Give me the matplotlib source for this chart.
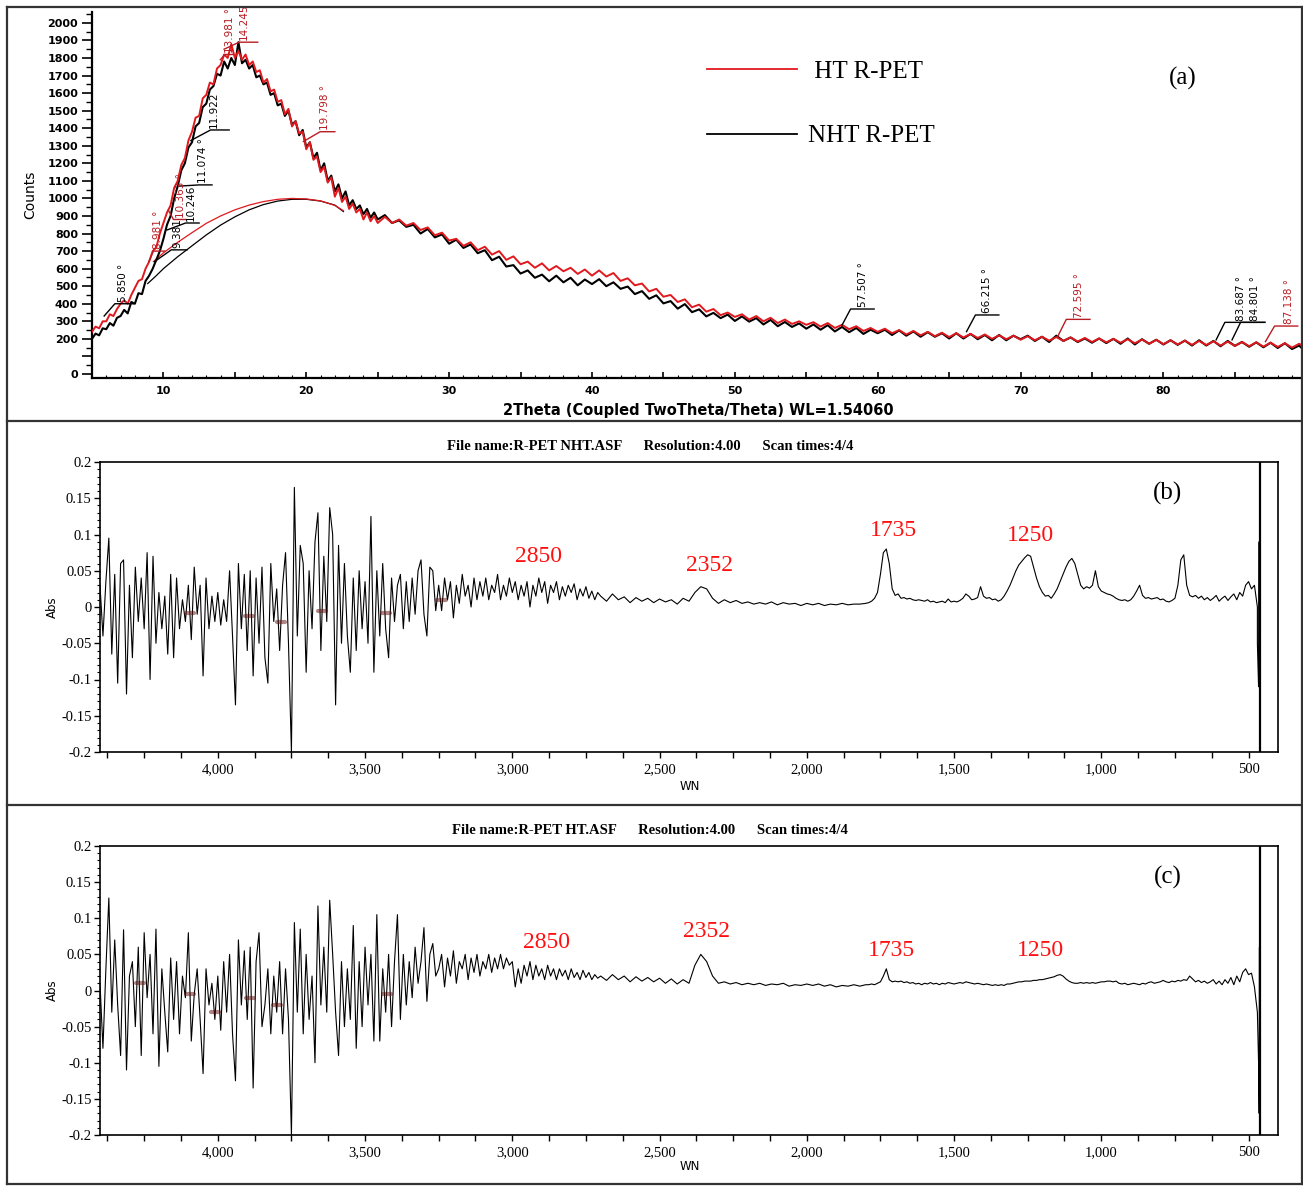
import numpy as np
import matplotlib
matplotlib.use("Agg")
import matplotlib.pyplot as plt
from matplotlib.lines import Line2D
from matplotlib.ticker import MultipleLocator, FixedLocator

# ---------------- XRD data (panel a) ----------------
# 2theta 5.0 .. 25.0 step 0.25
nht_head = [200, 230, 220, 260, 255, 290, 275, 320, 330, 365, 345, 410, 400, 460, 455, 530,
            560, 600, 650, 700, 770, 850, 900, 1000, 1070, 1160, 1200, 1290, 1320, 1410, 1430,
            1520, 1540, 1620, 1640, 1710, 1700, 1780, 1740, 1800, 1760, 1890, 1770, 1790, 1740,
            1760, 1690, 1700, 1650, 1660, 1590, 1600, 1530, 1540, 1470, 1500, 1420, 1440, 1360,
            1390, 1290, 1320, 1230, 1260, 1160, 1200, 1100, 1130, 1040, 1080, 1000, 1040, 960,
            990, 940, 960, 910, 940, 890, 920, 880]
ht_head = [240, 270, 260, 300, 300, 340, 330, 370, 400, 420, 400, 450, 490, 530, 540, 600,
           640, 700, 720, 800, 860, 920, 960, 1060, 1100, 1190, 1230, 1330, 1380, 1460, 1470,
           1570, 1590, 1660, 1650, 1740, 1760, 1820, 1800, 1880, 1800, 1840, 1790, 1820, 1760,
           1780, 1720, 1730, 1660, 1680, 1610, 1620, 1550, 1560, 1480, 1510, 1410, 1440, 1370,
           1380, 1280, 1320, 1220, 1240, 1150, 1180, 1090, 1120, 1010, 1060, 980, 1010, 940,
           970, 920, 940, 880, 920, 870, 900, 860]
# 2theta 25.5 .. 90.0 step 0.5
nht_tail = [905, 860, 875, 838, 850, 800, 826, 778, 795, 742,
            765, 718, 738, 688, 705, 648, 668, 612, 620, 572,
            590, 548, 566, 528, 560, 522, 548, 505, 538, 512,
            540, 500, 522, 485, 498, 455, 472, 428, 448, 402,
            415, 372, 398, 352, 368, 328, 348, 318, 338, 302,
            328, 298, 318, 282, 308, 272, 296, 268, 288, 258,
            282, 252, 278, 242, 268, 238, 262, 228, 252, 232,
            252, 222, 248, 218, 242, 212, 238, 212, 232, 202,
            232, 202, 228, 198, 222, 192, 222, 192, 218, 198,
            218, 188, 212, 182, 218, 188, 208, 182, 202, 178,
            202, 176, 200, 172, 202, 168, 198, 172, 195, 168,
            192, 166, 190, 162, 192, 162, 188, 158, 188, 160,
            182, 155, 180, 152, 178, 148, 175, 142, 162, 122]
ht_tail = [895, 860, 880, 845, 860, 820, 835, 790, 805, 760,
           770, 730, 750, 705, 725, 680, 700, 650, 670, 625,
           640, 605, 630, 590, 615, 585, 605, 570, 595, 560,
           590, 555, 575, 530, 545, 505, 515, 470, 485, 440,
           450, 410, 425, 380, 395, 355, 370, 335, 350, 325,
           340, 310, 330, 300, 320, 290, 310, 285, 300, 280,
           295, 270, 290, 262, 280, 255, 272, 245, 262, 240,
           258, 232, 250, 225, 245, 220, 240, 215, 235, 210,
           232, 208, 228, 205, 225, 200, 220, 198, 218, 195,
           215, 192, 212, 190, 210, 188, 208, 185, 205, 182,
           202, 180, 200, 178, 198, 175, 196, 172, 194, 170,
           192, 168, 190, 166, 188, 165, 186, 162, 184, 160,
           182, 158, 180, 156, 178, 154, 175, 150, 172, 150]

# amorphous halo fits
arc_nht_theta = [8.9, 9.5, 10, 11, 12, 13, 14, 15, 16, 17, 18, 19, 20, 21, 22, 22.6]
arc_nht_counts = [515, 560, 600, 668, 730, 792, 848, 895, 935, 965, 985, 995, 995, 985, 962, 925]
arc_ht_theta = [9.3, 10, 11, 12, 13, 14, 15, 16, 17, 18, 19, 20, 21, 22, 22.6]
arc_ht_counts = [640, 690, 750, 805, 858, 900, 935, 962, 982, 995, 1000, 997, 986, 960, 930]

# peak markers
nht_labels = ["5.850 °", "9.381", "10.246", "11.074 °", "11.922", "57.507 °", "66.215 °",
              "83.687 °", "84.801 °"]
nht_x0 = [5.85, 9.381, 10.246, 11.074, 11.922, 57.507, 66.215, 83.687, 84.801]
nht_c0 = [330, 640, 820, 1070, 1330, 279, 241, 194, 194]
nht_x1 = [6.6, 10.55, 11.55, 12.5, 13.3, 58.1, 66.84, 84.3, 85.4]
nht_c1 = [400, 707, 860, 1077, 1390, 370, 336, 294, 294]
nht_x2 = [7.9, 11.65, 12.5, 13.4, 14.6, 59.75, 68.48, 87.1, 87.1]
nht_xt = [7.2, 10.95, 11.9, 12.8, 13.55, 59.0, 67.65, 85.44, 86.4]

ht_labels = ["8.981 °", "10.363 °", "13.981 °", "14.245", "19.798 °", "72.595 °", "87.138 °"]
ht_x0 = [8.981, 10.363, 13.981, 14.245, 19.798, 72.595, 87.138]
ht_c0 = [640, 930, 1790, 1850, 1324, 213, 184]
ht_x1 = [9.3, 10.7, 14.3, 15.3, 20.97, 73.2, 87.78]
ht_c1 = [700, 880, 1820, 1890, 1380, 311, 273]
ht_x2 = [10.1, 11.6, 14.9, 16.6, 22.0, 74.86, 89.4]
ht_xt = [9.65, 11.25, 14.67, 15.6, 21.3, 74.1, 88.8]

# ---------------- FTIR data (panels b, c) ----------------
# segment A: 4400 -> 3260 (step 10)
nht_A = [0.03, -0.04, 0.035, 0.095, -0.065, 0.045, -0.105, 0.06, 0.065, -0.12,
         0.03, -0.07, 0.055, -0.02, 0.04, -0.03, 0.075, -0.1, 0.07, -0.05,
         0.02, -0.03, 0.015, -0.065, 0.045, -0.07, 0.04, -0.03, 0.01, -0.02,
         0.03, -0.045, 0.055, -0.01, 0.03, -0.095, 0.04, -0.03, 0.015, -0.02,
         0.02, -0.025, 0.01, -0.02, 0.05, -0.04, -0.135, 0.06, -0.03, 0.045,
         -0.06, 0.05, -0.095, 0.04, -0.05, 0.055, -0.07, -0.105, 0.06, -0.02,
         0.025, -0.06, 0.03, 0.075, -0.05, -0.2, 0.165, -0.04, 0.085, 0.06,
         -0.09, 0.05, -0.03, 0.09, 0.13, -0.06, 0.07, -0.02, 0.137, 0.1,
         -0.135, 0.085, -0.05, 0.06, -0.04, -0.09, 0.04, -0.06, 0.05, -0.03,
         0.035, -0.05, 0.125, -0.09, 0.05, -0.04, 0.06, -0.03, -0.07, 0.04,
         -0.02, 0.03, 0.045, -0.03, 0.035, -0.02, 0.04, -0.01, 0.05, 0.065,
         -0.01, -0.04, 0.055, 0.05, -0.005]
# segment B: 3250 -> 2710 (step 10)
nht_B = [0.03, -0.005, 0.04, 0.01, 0.035, -0.015, 0.03, 0.005, 0.045, 0.015,
         0.03, 0.0, 0.04, 0.01, 0.035, 0.015, 0.04, 0.01, 0.03, 0.02,
         0.045, 0.01, 0.03, 0.015, 0.04, 0.02, 0.035, 0.01, 0.03, 0.015,
         0.035, 0.0, 0.03, 0.015, 0.04, 0.02, 0.035, 0.005, 0.03, 0.02,
         0.035, 0.01, 0.028, 0.015, 0.03, 0.02, 0.032, 0.01, 0.025, 0.015,
         0.028, 0.012, 0.022, 0.01, 0.02]
# segment C: 2700 -> 1800 (step 20)
nht_C = [0.015, 0.008, 0.018, 0.01, 0.014, 0.006, 0.013, 0.008, 0.012, 0.006,
         0.011, 0.007, 0.01, 0.004, 0.012, 0.008, 0.02, 0.028, 0.025, 0.012,
         0.005, 0.01, 0.006, 0.009, 0.005, 0.007, 0.004, 0.006, 0.004, 0.007,
         0.003, 0.006, 0.004, 0.005, 0.002, 0.005, 0.003, 0.005, 0.002, 0.004,
         0.003, 0.005, 0.003, 0.004, 0.004, 0.005]
# segment D: 1790 -> 470 (step 10)
nht_D = [0.006, 0.008, 0.012, 0.02, 0.045, 0.075, 0.08, 0.06, 0.025, 0.016,
         0.018, 0.012, 0.013, 0.011, 0.012, 0.01, 0.009, 0.01, 0.009, 0.008,
         0.01, 0.007, 0.008, 0.006, 0.007, 0.008, 0.006, 0.011, 0.007, 0.008,
         0.007, 0.009, 0.012, 0.018, 0.015, 0.01, 0.011, 0.013, 0.028, 0.015,
         0.012, 0.013, 0.01, 0.011, 0.008, 0.01, 0.015, 0.022, 0.03, 0.04,
         0.05, 0.058, 0.063, 0.068, 0.072, 0.07, 0.055, 0.04, 0.028, 0.02,
         0.015, 0.016, 0.012, 0.018, 0.025, 0.035, 0.045, 0.055, 0.063, 0.067,
         0.06, 0.045, 0.03, 0.025, 0.028, 0.026, 0.03, 0.05, 0.028, 0.022,
         0.02, 0.018, 0.017, 0.015, 0.012, 0.01, 0.009, 0.01, 0.008, 0.01,
         0.015, 0.022, 0.03, 0.016, 0.012, 0.013, 0.011, 0.012, 0.013, 0.01,
         0.011, 0.008, 0.007, 0.009, 0.012, 0.03, 0.065, 0.072, 0.03, 0.016,
         0.014, 0.016, 0.012, 0.015, 0.01, 0.013, 0.009, 0.012, 0.016, 0.008,
         0.012, 0.015, 0.009, 0.014, 0.018, 0.01, 0.02, 0.015, 0.03, 0.035,
         0.025, 0.03, 0.0]
nht_end_wn = [470, 466, 464, 462]
nht_end = [-0.05, -0.11, 0.09, -0.2]

ht_A = [0.01, -0.08, 0.03, 0.128, -0.03, 0.07, -0.02, -0.09, 0.084, -0.11,
        0.02, 0.04, -0.05, 0.06, -0.09, 0.08, -0.01, 0.05, -0.06, 0.085,
        -0.105, 0.03, -0.03, -0.085, 0.045, -0.04, 0.04, -0.06, 0.02, -0.01,
        0.08, -0.07, -0.005, 0.03, -0.04, -0.115, 0.03, -0.02, 0.01, -0.04,
        0.02, -0.055, 0.04, -0.03, 0.05, -0.06, -0.125, 0.07, -0.02, 0.055,
        -0.04, 0.06, -0.135, 0.04, 0.08, -0.05, -0.02, 0.03, -0.06, 0.02,
        -0.03, 0.04, -0.06, 0.03, -0.04, -0.2, 0.094, -0.03, 0.085, -0.06,
        0.05, -0.04, 0.02, -0.1, 0.117, -0.02, 0.06, -0.03, 0.125, 0.05,
        -0.03, -0.09, 0.04, -0.05, 0.03, -0.04, 0.09, -0.08, 0.04, -0.05,
        0.06, -0.02, 0.05, -0.07, 0.105, -0.07, 0.03, -0.03, 0.05, -0.05,
        0.04, 0.105, -0.04, 0.05, -0.02, 0.04, -0.01, 0.06, 0.01, 0.04,
        0.087, -0.015, 0.05, 0.065, 0.02]
ht_B = [0.03, 0.05, 0.005, 0.045, 0.02, 0.055, 0.01, 0.04, 0.03, 0.05,
        0.015, 0.045, 0.025, 0.05, 0.02, 0.04, 0.03, 0.05, 0.025, 0.045,
        0.03, 0.05, 0.03, 0.045, 0.035, 0.04, 0.005, 0.03, 0.01, 0.035,
        0.02, 0.04, 0.015, 0.035, 0.02, 0.03, 0.015, 0.035, 0.02, 0.03,
        0.015, 0.03, 0.02, 0.028, 0.015, 0.03, 0.018, 0.025, 0.015, 0.028,
        0.018, 0.025, 0.015, 0.022, 0.017]
ht_C = [0.02, 0.014, 0.022, 0.015, 0.02, 0.012, 0.019, 0.013, 0.018, 0.012,
        0.017, 0.01, 0.016, 0.009, 0.015, 0.01, 0.035, 0.05, 0.04, 0.02,
        0.01, 0.012, 0.009, 0.011, 0.008, 0.01, 0.008, 0.01, 0.007, 0.009,
        0.008, 0.01, 0.006, 0.008, 0.007, 0.009, 0.007, 0.009, 0.006, 0.008,
        0.005, 0.007, 0.006, 0.008, 0.006, 0.008]
ht_D = [0.008, 0.009, 0.008, 0.01, 0.012, 0.02, 0.03, 0.015, 0.012, 0.013,
        0.012, 0.013, 0.011, 0.012, 0.01, 0.011, 0.009, 0.01, 0.008, 0.01,
        0.009, 0.011, 0.009, 0.01, 0.008, 0.01, 0.009, 0.011, 0.01, 0.009,
        0.01, 0.011, 0.01, 0.012, 0.011, 0.01, 0.009, 0.01, 0.009, 0.008,
        0.009, 0.008, 0.007, 0.008, 0.007, 0.008, 0.007, 0.009, 0.009, 0.01,
        0.011, 0.012, 0.012, 0.013, 0.013, 0.013, 0.014, 0.014, 0.015, 0.015,
        0.016, 0.017, 0.018, 0.019, 0.021, 0.022, 0.02, 0.016, 0.013, 0.011,
        0.01, 0.01, 0.011, 0.01, 0.011, 0.01, 0.011, 0.01, 0.011, 0.012,
        0.012, 0.013, 0.013, 0.012, 0.013, 0.01, 0.009, 0.01, 0.008, 0.009,
        0.01, 0.009, 0.008, 0.01, 0.009, 0.011, 0.012, 0.01, 0.011, 0.012,
        0.014, 0.012, 0.011, 0.013, 0.012, 0.014, 0.013, 0.015, 0.014, 0.02,
        0.016, 0.012, 0.014, 0.011, 0.013, 0.01, 0.012, 0.015, 0.009, 0.013,
        0.008, 0.015, 0.01, 0.018, 0.008, 0.02, 0.012, 0.025, 0.03, 0.022,
        0.024, 0.005, -0.03]
ht_end_wn = [466, 464, 463, 462]
ht_end = [-0.1, -0.17, 0.06, -0.2]

cutoff_wn = 461

smudge_b_wn = [4095, 3895, 3785, 3645, 3430, 3240]
smudge_b_abs = [-0.008, -0.012, -0.02, -0.005, -0.008, 0.01]
smudge_c_wn = [4265, 4095, 4010, 3890, 3800, 3425]
smudge_c_abs = [0.01, -0.005, -0.03, -0.01, -0.02, -0.005]

peak_names = ["2850", "2352", "1735", "1250"]
b_lab_wn = [2910, 2330, 1705, 1240]
b_lab_abs = [0.069, 0.057, 0.105, 0.098]
c_lab_wn = [2883, 2340, 1712, 1206]
c_lab_abs = [0.066, 0.082, 0.055, 0.055]

# ---------------- figure ----------------
W, H = 1303, 1186
fig = plt.figure(figsize=(W / 100, H / 100), dpi=100)


def axes_px(l, t, r, b):
    return fig.add_axes([l / W, 1 - b / H, (r - l) / W, (b - t) / H])


def fx(px):
    return px / W


def fy(py):
    return 1 - py / H


RED = "#e0191e"
LRED = "#b81c22"
NARROW = ["Liberation Sans Narrow", "DejaVu Sans"]
SERIF = ["Liberation Serif", "DejaVu Serif"]

# panel a
ax = axes_px(92, 12, 1302, 378)
th_head = np.linspace(5.0, 25.0, len(nht_head))
th_tail = np.linspace(25.5, 90.0, len(nht_tail))
theta = np.concatenate([th_head, th_tail])
nht = np.concatenate([nht_head, nht_tail])
ht = np.concatenate([np.array(ht_head, float), np.array(ht_tail, float)])
ax.plot(theta, nht, color="black", lw=1.5, zorder=3)
ax.plot(theta, ht, color=RED, lw=1.4, zorder=4)
ax.plot(arc_nht_theta, arc_nht_counts, color="black", lw=0.9, zorder=2)
ax.plot(arc_ht_theta, arc_ht_counts, color=RED, lw=0.9, zorder=2)

for lab, x0, c0, x1, c1, x2, xt in zip(nht_labels, nht_x0, nht_c0, nht_x1, nht_c1, nht_x2, nht_xt):
    ax.plot([x0, x1, x2], [c0, c1, c1], color="black", lw=1.0, zorder=5)
    ax.text(xt, c1 + 10, lab, rotation=90, ha="center", va="bottom", fontsize=7.5,
            family=NARROW, color="black", zorder=6)
for lab, x0, c0, x1, c1, x2, xt in zip(ht_labels, ht_x0, ht_c0, ht_x1, ht_c1, ht_x2, ht_xt):
    ax.plot([x0, x1, x2], [c0, c1, c1], color=LRED, lw=1.0, zorder=5, clip_on=False)
    ax.text(xt, c1 + 10, lab, rotation=90, ha="center", va="bottom", fontsize=7.5,
            family=NARROW, color=LRED, zorder=6, clip_on=False)

ax.set_xlim(5.0, 89.7)
ax.set_ylim(-23, 2062)
for s in ["top", "right"]:
    ax.spines[s].set_visible(False)
for s in ["left", "bottom"]:
    ax.spines[s].set_linewidth(1.6)
yt = list(range(0, 2001, 100))
ax.set_yticks(yt)
ax.set_yticklabels(["" if v == 100 else str(v) for v in yt])
ax.yaxis.set_minor_locator(MultipleLocator(50))
xt_major = list(range(5, 90, 5))
ax.set_xticks(xt_major)
ax.set_xticklabels([str(v) if v % 10 == 0 else "" for v in xt_major])
ax.xaxis.set_minor_locator(MultipleLocator(1))
ax.tick_params(axis="y", which="major", direction="out", length=7, width=1.2, pad=3, labelsize=8)
ax.tick_params(axis="y", which="minor", direction="out", length=4, width=1.0)
ax.tick_params(axis="x", which="major", direction="in", length=4, width=1.2, pad=6, labelsize=8)
ax.tick_params(axis="x", which="minor", direction="in", length=2, width=0.8)
for t in ax.get_xticklabels() + ax.get_yticklabels():
    t.set_fontweight("bold")
fig.text(fx(698), fy(411), "2Theta (Coupled TwoTheta/Theta) WL=1.54060", ha="center", va="center",
         fontsize=10.5, fontweight="bold")
fig.text(fx(30), fy(195), "Counts", rotation=90, ha="center", va="center", fontsize=10,
         family=NARROW)
handles = [Line2D([], [], color=RED, lw=1.3), Line2D([], [], color="black", lw=1.3)]
fig.legend(handles, [" HT R-PET", "NHT R-PET"], loc="upper left",
           bbox_to_anchor=(fx(707), fy(60)), frameon=False,
           prop={"family": SERIF, "size": 18}, handlelength=3.6, handletextpad=0.45,
           labelspacing=1.7, borderpad=0, borderaxespad=0)
fig.text(fx(1183), fy(78), "(a)", ha="center", va="center", fontsize=18, family=SERIF)


# panels b, c
def ftir_panel(top, bottom, A, B, C, D, end_wn, end_vals, sm_wn, sm_abs,
               lab_wn, lab_abs, tag, title, title_y, wn_y):
    a = axes_px(100, top, 1278, bottom)
    wn = np.concatenate([np.linspace(4400, 3260, len(A)), np.linspace(3250, 2710, len(B)),
                         np.linspace(2700, 1800, len(C)), np.linspace(1790, 470, len(D)),
                         end_wn])
    vals = np.concatenate([A, B, C, D, end_vals])
    a.plot(wn, vals, color="black", lw=0.8, zorder=2)
    for w, v in zip(sm_wn, sm_abs):
        a.plot([w + 14, w - 14], [v, v], color="#5e0c0c", lw=3, alpha=0.5,
               solid_capstyle="round", zorder=3)
    a.axvline(cutoff_wn, color="black", lw=1.6, zorder=3)
    for name, w, v in zip(peak_names, lab_wn, lab_abs):
        a.text(w, v, name, color="#ff1010", fontsize=17, family=SERIF, ha="center", va="center")
    a.text(775, 0.157, tag, fontsize=18, family=SERIF, ha="center", va="center")
    a.set_xlim(4400, 400)
    a.set_ylim(-0.2, 0.2)
    yv = [0.2, 0.15, 0.1, 0.05, 0, -0.05, -0.1, -0.15, -0.2]
    a.set_yticks(yv)
    a.set_yticklabels(["0.2", "0.15", "0.1", "0.05", "0", "-0.05", "-0.1", "-0.15", "-0.2"])
    a.yaxis.set_minor_locator(MultipleLocator(0.01))
    xv = [4000, 3500, 3000, 2500, 2000, 1500, 1000, 500]
    a.set_xticks(xv)
    a.set_xticklabels(["4,000", "3,500", "3,000", "2,500", "2,000", "1,500", "1,000", "500"])
    a.xaxis.set_minor_locator(FixedLocator([4375, 4250, 4125, 3875, 3750, 3625, 3375, 3250, 3125,
                                            2875, 2750, 2625, 2375, 2250, 2125, 1875, 1750, 1625,
                                            1375, 1250, 1125, 875, 750, 625]))
    a.tick_params(axis="both", which="major", direction="out", length=4, width=1.0, labelsize=10.5)
    a.tick_params(axis="y", which="minor", direction="out", length=2.5, width=0.8)
    a.tick_params(axis="x", which="minor", direction="out", length=4, width=1.0)
    a.tick_params(axis="y", pad=2)
    a.tick_params(axis="x", pad=4)
    for t in a.get_xticklabels() + a.get_yticklabels():
        t.set_family(SERIF)
    for s in a.spines.values():
        s.set_linewidth(1.2)
    fig.text(fx(650), fy(title_y), title, ha="center", va="center", fontsize=10.5,
             fontweight="bold", family=SERIF)
    fig.text(fx(52), fy((top + bottom) / 2), "Abs", rotation=90, ha="center", va="center",
             fontsize=8.5)
    fig.text(fx(690), fy(wn_y), "WN", ha="center", va="center", fontsize=8.5)
    return a


ftir_panel(462, 752, nht_A, nht_B, nht_C, nht_D, nht_end_wn, nht_end, smudge_b_wn, smudge_b_abs,
           b_lab_wn, b_lab_abs, "(b)",
           "File name:R-PET NHT.ASF      Resolution:4.00      Scan times:4/4", 447, 786)
ftir_panel(846, 1135, ht_A, ht_B, ht_C, ht_D, ht_end_wn, ht_end, smudge_c_wn, smudge_c_abs,
           c_lab_wn, c_lab_abs, "(c)",
           "File name:R-PET HT.ASF      Resolution:4.00      Scan times:4/4", 830, 1167)

# panel frames
frame_kw = dict(transform=fig.transFigure, color="#333333", lw=1.6)
for y in [7, 421, 805, 1184]:
    fig.add_artist(Line2D([fx(7), fx(1302)], [fy(y), fy(y)], **frame_kw))
for x in [7, 1302]:
    fig.add_artist(Line2D([fx(x), fx(x)], [fy(7), fy(1184)], **frame_kw))

fig.savefig("out.png", dpi=100)
